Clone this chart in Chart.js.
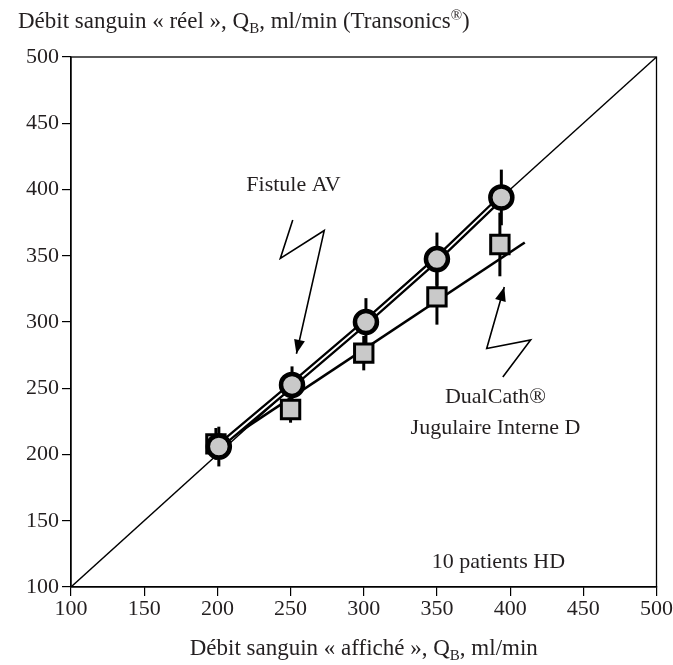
<!DOCTYPE html>
<html>
<head>
<meta charset="utf-8">
<script src="https://cdn.jsdelivr.net/npm/chart.js@4.4.1/dist/chart.umd.min.js"></script>
<style>
  html, body { margin: 0; padding: 0; background: #fff; }
  #wrap { width: 673px; height: 665px; }
</style>
</head>
<body>
<div id="wrap"><canvas id="chart" width="673" height="665"></canvas></div>
<script>
// Axis ticks
const axisMin = 100;
const axisMax = 500;
const axisStep = 50;

// Fistule AV (circles): mean and SD
const xCircle = [201, 251, 301.5, 350, 394];
const yCircle = [206, 252.5, 300, 347.5, 394];
const sdCircle = [15, 14, 18, 20, 21];

// DualCath jugulaire interne D (squares)
const xSquare = [199, 250, 300, 350, 393];
const ySquare = [208, 234, 276.5, 319, 358.5];
const sdSquare = [12, 10, 13, 21, 24];

// Regression line for the squares
const xSquareFit = [200, 410];
const ySquareFit = [206, 360];

// Line of identity
const xIdentity = [100, 500];
const yIdentity = [100, 500];

// Zigzag arrows (tail -> tip)
const xArrowFistule = [251.5, 243, 273, 254];
const yArrowFistule = [377, 348, 369, 276];
const xArrowDual = [395, 414, 384, 396];
const yArrowDual = [258.5, 286.4, 280, 326.4];

// Text labels placed in data units
const labelTexts = ["Fistule AV", "DualCath®", "Jugulaire Interne D", "10 patients HD"];
const labelX = [252, 390, 390, 392];
const labelY = [403, 243, 220, 119];

const FONT = "'Liberation Serif', 'Times New Roman', serif";
const INK = "#231f20";

const toPoints = (xs, ys) => xs.map((x, i) => ({ x, y: ys[i] }));

// Error bars drawn under the markers
const errorBarPlugin = {
  id: "errorBars",
  beforeDatasetsDraw(chart) {
    const { ctx, scales } = chart;
    const draw = (xs, ys, sds) => {
      xs.forEach((x, i) => {
        const px = scales.x.getPixelForValue(x);
        ctx.beginPath();
        ctx.moveTo(px, scales.y.getPixelForValue(ys[i] + sds[i]));
        ctx.lineTo(px, scales.y.getPixelForValue(ys[i] - sds[i]));
        ctx.stroke();
      });
    };
    ctx.save();
    ctx.strokeStyle = "#000";
    ctx.lineWidth = 3;
    draw(xSquare, ySquare, sdSquare);
    draw(xCircle, yCircle, sdCircle);
    ctx.restore();
  },
};

// Draw text with a subscript "B" after Q, and a raised ®
const drawRichText = (ctx, parts, x, y, align) => {
  const big = "23px " + FONT;
  const small = "15px " + FONT;
  let total = 0;
  parts.forEach((p) => {
    ctx.font = p.sub || p.sup ? small : big;
    total += ctx.measureText(p.t).width;
  });
  let cx = align === "center" ? x - total / 2 : x;
  ctx.textAlign = "left";
  ctx.textBaseline = "alphabetic";
  parts.forEach((p) => {
    ctx.font = p.sub || p.sup ? small : big;
    const dy = p.sub ? 5 : p.sup ? -8 : 0;
    ctx.fillText(p.t, cx, y + dy);
    cx += ctx.measureText(p.t).width;
  });
};

const arrowHead = (ctx, x0, y0, x1, y1) => {
  const ang = Math.atan2(y1 - y0, x1 - x0);
  const len = 14, half = 5.5;
  ctx.beginPath();
  ctx.moveTo(x1, y1);
  ctx.lineTo(x1 - len * Math.cos(ang) + half * Math.sin(ang), y1 - len * Math.sin(ang) - half * Math.cos(ang));
  ctx.lineTo(x1 - len * Math.cos(ang) - half * Math.sin(ang), y1 - len * Math.sin(ang) + half * Math.cos(ang));
  ctx.closePath();
  ctx.fill();
};

const decorPlugin = {
  id: "decor",
  afterDraw(chart) {
    const { ctx, scales, chartArea } = chart;
    ctx.save();
    // frame
    ctx.strokeStyle = "#000";
    ctx.lineWidth = 1.3;
    ctx.strokeRect(chartArea.left, chartArea.top, chartArea.right - chartArea.left, chartArea.bottom - chartArea.top);

    // arrow heads
    ctx.fillStyle = "#000";
    [[xArrowFistule, yArrowFistule], [xArrowDual, yArrowDual]].forEach(([xs, ys]) => {
      const n = xs.length;
      arrowHead(ctx,
        scales.x.getPixelForValue(xs[n - 2]), scales.y.getPixelForValue(ys[n - 2]),
        scales.x.getPixelForValue(xs[n - 1]), scales.y.getPixelForValue(ys[n - 1]));
    });

    // labels
    ctx.fillStyle = INK;
    ctx.font = "22px " + FONT;
    ctx.textAlign = "center";
    ctx.textBaseline = "middle";
    labelTexts.forEach((t, i) => {
      ctx.fillText(t, scales.x.getPixelForValue(labelX[i]), scales.y.getPixelForValue(labelY[i]));
    });

    // axis titles
    drawRichText(ctx, [
      { t: "Débit sanguin « réel », Q" }, { t: "B", sub: true },
      { t: ", ml/min (Transonics" }, { t: "®", sup: true }, { t: ")" },
    ], 18, 28, "left");
    drawRichText(ctx, [
      { t: "Débit sanguin « affiché », Q" }, { t: "B", sub: true }, { t: ", ml/min" },
    ], (chartArea.left + chartArea.right) / 2, 655, "center");
    ctx.restore();
  },
};

document.addEventListener("DOMContentLoaded", () => {
  const ctx = document.getElementById("chart").getContext("2d");

  const lineSet = (data, width, color, order) => ({
    data,
    showLine: true,
    borderColor: color,
    borderWidth: width,
    pointRadius: 0,
    fill: false,
    order,
  });

  const data = {
    datasets: [
      {
        label: "Fistule AV",
        data: toPoints(xCircle, yCircle),
        showLine: false,
        pointStyle: "circle",
        pointRadius: 11,
        pointBorderWidth: 4.5,
        pointBorderColor: "#000",
        pointBackgroundColor: "#c9c9c9",
        order: 0,
      },
      lineSet(toPoints(xCircle, yCircle), 1.8, "#fff", 1),
      lineSet(toPoints(xCircle, yCircle), 6.4, "#000", 2),
      {
        label: "DualCath",
        data: toPoints(xSquare, ySquare),
        showLine: false,
        pointStyle: "rect",
        pointRadius: 13,
        pointBorderWidth: 3,
        pointBorderColor: "#000",
        pointBackgroundColor: "#c9c9c9",
        order: 3,
      },
      lineSet(toPoints(xSquareFit, ySquareFit), 2.6, "#000", 4),
      lineSet(toPoints(xIdentity, yIdentity), 1.4, "#000", 5),
      lineSet(toPoints(xArrowFistule, yArrowFistule), 1.6, "#000", 6),
      lineSet(toPoints(xArrowDual, yArrowDual), 1.6, "#000", 7),
    ],
  };

  const axis = (pos) => ({
    type: "linear",
    position: pos,
    min: axisMin,
    max: axisMax,
    ticks: {
      stepSize: axisStep,
      color: INK,
      font: { family: FONT, size: 22 },
      padding: pos === "left" ? 3 : 0,
    },
    grid: { drawOnChartArea: false, drawTicks: true, tickLength: 9, color: "#000", lineWidth: 1.2 },
    border: { display: true, color: "#000", width: 1.3 },
    afterFit: (scale) => {
      if (pos === "left") scale.width = 71;
      else scale.height = 78;
    },
  });

  new Chart(ctx, {
    type: "scatter",
    data,
    options: {
      responsive: false,
      animation: false,
      layout: { padding: { left: 0, top: 57, right: 16, bottom: 0 } },
      plugins: { legend: { display: false }, tooltip: { enabled: false } },
      scales: { x: axis("bottom"), y: axis("left") },
    },
    plugins: [errorBarPlugin, decorPlugin],
  });
});
</script>
</body>
</html>
